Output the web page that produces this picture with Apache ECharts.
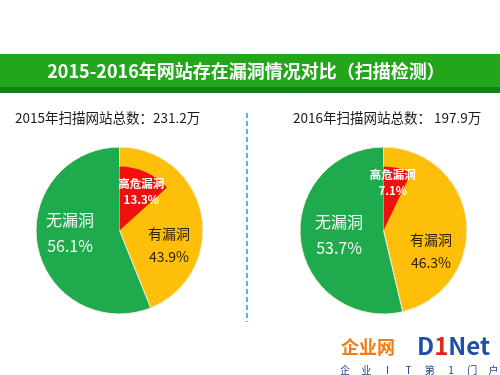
<!DOCTYPE html>
<html><head><meta charset="utf-8">
<script src="https://cdn.jsdelivr.net/npm/echarts@6/dist/echarts.min.js"></script>
<style>html,body{margin:0;padding:0;background:#fff}#c{width:500px;height:375px}</style>
</head><body><div id="c"></div>
<script>
// ---- data ----
const chartTitle = '2015-2016年网站存在漏洞情况对比（扫描检测）';
const years = ['2015', '2016'];
const totals = ['231.2万', '197.9万'];
const subtitleSep = ['：', '： '];
const categories = ['有漏洞', '无漏洞'];
const vulnShare = [43.9, 46.3];
const noVulnShare = [56.1, 53.7];
const highRiskName = '高危漏洞';
const highRiskShare = [13.3, 7.1];
const sloganChars = ['企', '业', 'I', 'T', '第', '1', '门', '户'];

// ---- styles ----
const FONT = '"Noto Sans CJK SC", "Noto Sans", sans-serif';
const GREEN = '#1faa4e', YELLOW = '#fdbf0a', RED = '#f20f0f';
const centers = [[119.5, 230.5], [383.5, 230.5]];
const outerR = 83.5, innerR = 64;
// label offsets (style only): [yellow, green, red]
const offs = [
  [[5.5, 23.5], [-5.5, -6], [7.5, -7]],
  [[3, 26], [0, -1], [1.5, -14]]
];

const chart = echarts.init(document.getElementById('c'), null, {renderer: 'canvas'});
const series = [];
years.forEach((y, i) => {
  series.push({
    type: 'pie', center: centers[i], radius: outerR, startAngle: 90, clockwise: true,
    silent: true, animation: false,
    itemStyle: {borderColor: '#f3efd8', borderWidth: 1},
    label: {position: 'inside', formatter: '{b}\n{c}%', fontFamily: FONT},
    labelLayout: p => ({dx: offs[i][p.dataIndex][0], dy: offs[i][p.dataIndex][1]}),
    data: [
      {name: categories[0], value: vulnShare[i], itemStyle: {color: YELLOW},
       label: {color: '#2b2100', fontSize: 14, lineHeight: 23}},
      {name: categories[1], value: noVulnShare[i], itemStyle: {color: GREEN},
       label: {color: '#f2fbf2', fontSize: 16, lineHeight: 26}}
    ]
  });
  series.push({
    type: 'pie', center: centers[i], radius: innerR, startAngle: 90, clockwise: true,
    silent: true, animation: false, z: 3,
    label: {position: 'inside', formatter: '{b}\n{c}%', fontFamily: FONT},
    labelLayout: p => ({dx: offs[i][2][0], dy: offs[i][2][1]}),
    data: [
      {name: highRiskName, value: highRiskShare[i], itemStyle: {color: RED},
       label: {color: '#ffffff', fontSize: 11.5, fontWeight: 'bold', lineHeight: 16}},
      {name: '', value: vulnShare[i] + noVulnShare[i] - highRiskShare[i],
       itemStyle: {color: 'rgba(0,0,0,0)'}, label: {show: false}}
    ]
  });
});

const graphics = [
  {type: 'rect', shape: {x: 0, y: 54, width: 500, height: 34}, style: {fill: '#23a51c'}, z: 1},
  {type: 'rect', shape: {x: 0, y: 87, width: 500, height: 6}, style: {fill: '#177f18'}, z: 1},
  {type: 'text', x: 246, y: 71, z: 2,
   style: {text: chartTitle, fill: '#ffffff', font: 'bold 18px ' + FONT, align: 'center', verticalAlign: 'middle'}},
  {type: 'text', x: 15, y: 117.5, z: 2,
   style: {text: years[0] + '年扫描网站总数' + subtitleSep[0] + totals[0], fill: '#1a1a1a', font: '13.5px ' + FONT, verticalAlign: 'middle'}},
  {type: 'text', x: 293, y: 117.5, z: 2,
   style: {text: years[1] + '年扫描网站总数' + subtitleSep[1] + totals[1], fill: '#1a1a1a', font: '13.5px ' + FONT, verticalAlign: 'middle'}},
  {type: 'line', shape: {x1: 247, y1: 113, x2: 247, y2: 322}, z: 2,
   style: {stroke: '#33a3d6', lineWidth: 1.6, lineDash: [5, 3]}},
  {type: 'text', x: 341, y: 347, z: 5,
   style: {text: '企业网', fill: '#f27c14', font: 'bold 18px ' + FONT, verticalAlign: 'middle'}},
  {type: 'text', x: 417, y: 346, z: 5,
   style: {rich: {b: {fill: '#1f4fa8', font: 'bold 24px ' + FONT}, r: {fill: '#e0261b', font: 'bold 24px ' + FONT}},
           text: '{b|D}{r|1}{b|Net}', verticalAlign: 'middle'}}
];
sloganChars.forEach((ch, k) => {
  graphics.push({type: 'text', x: 345 + k * 21.2, y: 370, z: 5,
    style: {text: ch, fill: '#1f3f8f', font: '10px ' + FONT, align: 'center', verticalAlign: 'middle'}});
});

chart.setOption({
  backgroundColor: '#ffffff',
  animation: false,
  series: series,
  graphic: graphics
});
</script>
</body></html>
